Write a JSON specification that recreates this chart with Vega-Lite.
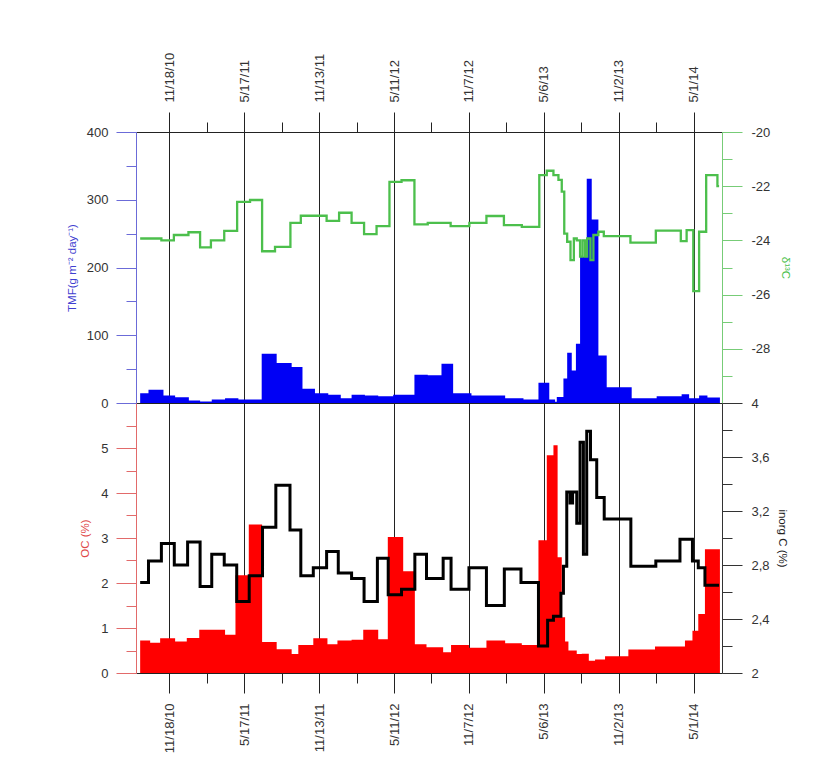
{
  "$schema": "https://vega.github.io/schema/vega-lite/v6.json",
  "background": "white",
  "padding": {"left": 66, "top": 52, "right": 10, "bottom": 5},
  "spacing": 0,
  "bounds": "flush",
  "config": {
    "view": {"stroke": null},
    "font": "Liberation Sans",
    "axis": {"labelFont": "Liberation Sans", "titleFont": "Liberation Sans", "labelColor": "#333333", "labelFontSize": 13, "titleFontWeight": "normal", "titleFontSize": 11.5, "domainWidth": 1, "tickWidth": 1, "grid": false, "labelOverlap": false, "labelFlush": false, "labelBound": false}
  },
  "datasets": {
    "tmf": [
      {"date": "2010-09-09", "v": 14.5}, {"date": "2010-09-29", "v": 19.5}, {"date": "2010-11-04", "v": 11}, {"date": "2010-12-02", "v": 8.6},
      {"date": "2011-01-04", "v": 3.7}, {"date": "2011-01-31", "v": 2.2}, {"date": "2011-02-28", "v": 5.2}, {"date": "2011-04-01", "v": 7.1},
      {"date": "2011-05-03", "v": 5.2}, {"date": "2011-06-28", "v": 72.8}, {"date": "2011-08-03", "v": 59}, {"date": "2011-09-08", "v": 53},
      {"date": "2011-10-04", "v": 21}, {"date": "2011-11-03", "v": 14.5}, {"date": "2011-12-05", "v": 12}, {"date": "2012-01-04", "v": 7},
      {"date": "2012-01-30", "v": 12}, {"date": "2012-03-02", "v": 11}, {"date": "2012-04-03", "v": 10}, {"date": "2012-05-09", "v": 12},
      {"date": "2012-06-29", "v": 41.7}, {"date": "2012-07-31", "v": 41}, {"date": "2012-09-02", "v": 58}, {"date": "2012-09-30", "v": 14.5},
      {"date": "2012-11-13", "v": 11}, {"date": "2013-02-02", "v": 7}, {"date": "2013-03-18", "v": 5}, {"date": "2013-04-23", "v": 30},
      {"date": "2013-05-19", "v": 5}, {"date": "2013-06-02", "v": 2}, {"date": "2013-06-06", "v": 9}, {"date": "2013-06-22", "v": 36},
      {"date": "2013-07-01", "v": 74}, {"date": "2013-07-12", "v": 48}, {"date": "2013-07-22", "v": 87.6}, {"date": "2013-08-01", "v": 216},
      {"date": "2013-08-17", "v": 331}, {"date": "2013-08-29", "v": 271}, {"date": "2013-09-14", "v": 70}, {"date": "2013-10-04", "v": 23.4},
      {"date": "2013-12-03", "v": 7}, {"date": "2014-02-01", "v": 10}, {"date": "2014-04-02", "v": 13}, {"date": "2014-04-20", "v": 7},
      {"date": "2014-05-14", "v": 11}, {"date": "2014-06-03", "v": 8}, {"date": "2014-07-03", "v": 8}
    ],
    "d13c": [
      {"date": "2010-09-09", "v": -23.93}, {"date": "2010-10-30", "v": -24.0}, {"date": "2010-11-29", "v": -23.8}, {"date": "2011-01-03", "v": -23.7},
      {"date": "2011-01-31", "v": -24.26}, {"date": "2011-02-26", "v": -24.0}, {"date": "2011-03-30", "v": -23.65}, {"date": "2011-04-30", "v": -22.58},
      {"date": "2011-05-31", "v": -22.51}, {"date": "2011-06-29", "v": -24.4}, {"date": "2011-07-30", "v": -24.24}, {"date": "2011-09-05", "v": -23.35},
      {"date": "2011-09-30", "v": -23.09}, {"date": "2011-12-01", "v": -23.28}, {"date": "2011-12-31", "v": -22.98}, {"date": "2012-01-30", "v": -23.35},
      {"date": "2012-02-29", "v": -23.77}, {"date": "2012-03-30", "v": -23.47}, {"date": "2012-04-30", "v": -21.84}, {"date": "2012-05-29", "v": -21.78},
      {"date": "2012-06-29", "v": -23.41}, {"date": "2012-07-31", "v": -23.35}, {"date": "2012-09-24", "v": -23.47}, {"date": "2012-11-08", "v": -23.35},
      {"date": "2012-12-19", "v": -23.1}, {"date": "2013-01-30", "v": -23.44}, {"date": "2013-03-14", "v": -23.5}, {"date": "2013-04-25", "v": -21.59},
      {"date": "2013-05-13", "v": -21.43}, {"date": "2013-05-29", "v": -21.59}, {"date": "2013-06-10", "v": -21.77}, {"date": "2013-06-18", "v": -22.2},
      {"date": "2013-06-24", "v": -23.75}, {"date": "2013-07-01", "v": -24.05}, {"date": "2013-07-09", "v": -24.73}, {"date": "2013-07-17", "v": -23.93},
      {"date": "2013-07-24", "v": -24.0}, {"date": "2013-08-01", "v": -24.6}, {"date": "2013-08-07", "v": -24.0}, {"date": "2013-08-13", "v": -24.6},
      {"date": "2013-08-18", "v": -23.93}, {"date": "2013-08-26", "v": -24.73}, {"date": "2013-09-02", "v": -23.8}, {"date": "2013-09-14", "v": -23.68},
      {"date": "2013-09-27", "v": -23.84}, {"date": "2013-11-30", "v": -24.08}, {"date": "2014-01-30", "v": -23.64}, {"date": "2014-03-31", "v": -24.03},
      {"date": "2014-04-14", "v": -23.62}, {"date": "2014-04-30", "v": -25.87}, {"date": "2014-05-14", "v": -23.68}, {"date": "2014-05-31", "v": -21.59},
      {"date": "2014-06-27", "v": -22.0}, {"date": "2014-07-01", "v": -22.0}
    ],
    "oc": [
      {"date": "2010-09-09", "v": 0.72}, {"date": "2010-10-03", "v": 0.67}, {"date": "2010-10-27", "v": 0.77}, {"date": "2010-12-02", "v": 0.70},
      {"date": "2010-12-30", "v": 0.78}, {"date": "2011-01-29", "v": 0.96}, {"date": "2011-04-01", "v": 0.85}, {"date": "2011-04-26", "v": 2.17},
      {"date": "2011-05-28", "v": 3.30}, {"date": "2011-06-29", "v": 0.69}, {"date": "2011-08-03", "v": 0.53}, {"date": "2011-09-08", "v": 0.42},
      {"date": "2011-09-24", "v": 0.62}, {"date": "2011-10-30", "v": 0.77}, {"date": "2011-12-03", "v": 0.64}, {"date": "2011-12-27", "v": 0.72},
      {"date": "2012-01-30", "v": 0.74}, {"date": "2012-02-27", "v": 0.96}, {"date": "2012-04-03", "v": 0.75}, {"date": "2012-04-26", "v": 3.02},
      {"date": "2012-06-02", "v": 2.26}, {"date": "2012-06-30", "v": 0.64}, {"date": "2012-07-28", "v": 0.57}, {"date": "2012-09-06", "v": 0.46},
      {"date": "2012-09-25", "v": 0.62}, {"date": "2012-11-07", "v": 0.56}, {"date": "2012-12-19", "v": 0.72}, {"date": "2013-02-02", "v": 0.66},
      {"date": "2013-03-14", "v": 0.62}, {"date": "2013-04-23", "v": 2.95}, {"date": "2013-05-13", "v": 4.84}, {"date": "2013-05-29", "v": 5.06},
      {"date": "2013-06-08", "v": 2.57}, {"date": "2013-06-18", "v": 1.24}, {"date": "2013-06-26", "v": 0.70}, {"date": "2013-07-04", "v": 0.50},
      {"date": "2013-07-24", "v": 0.42}, {"date": "2013-08-05", "v": 0.43}, {"date": "2013-08-22", "v": 0.27}, {"date": "2013-09-06", "v": 0.30},
      {"date": "2013-09-30", "v": 0.37}, {"date": "2013-11-25", "v": 0.52}, {"date": "2014-01-28", "v": 0.59}, {"date": "2014-04-10", "v": 0.72},
      {"date": "2014-04-28", "v": 0.94}, {"date": "2014-05-12", "v": 1.31}, {"date": "2014-05-28", "v": 2.75}, {"date": "2014-07-03", "v": 2.75}
    ],
    "inorg": [
      {"date": "2010-09-09", "v": 2.67}, {"date": "2010-09-29", "v": 2.83}, {"date": "2010-10-30", "v": 2.96}, {"date": "2010-11-30", "v": 2.80},
      {"date": "2011-01-01", "v": 2.97}, {"date": "2011-01-31", "v": 2.64}, {"date": "2011-02-28", "v": 2.88}, {"date": "2011-03-30", "v": 2.80},
      {"date": "2011-04-29", "v": 2.53}, {"date": "2011-05-29", "v": 2.72}, {"date": "2011-06-30", "v": 3.08}, {"date": "2011-08-01", "v": 3.39},
      {"date": "2011-09-04", "v": 3.06}, {"date": "2011-09-30", "v": 2.72}, {"date": "2011-10-30", "v": 2.78}, {"date": "2011-12-01", "v": 2.90},
      {"date": "2011-12-29", "v": 2.74}, {"date": "2012-01-30", "v": 2.70}, {"date": "2012-02-29", "v": 2.53}, {"date": "2012-04-01", "v": 2.85},
      {"date": "2012-04-27", "v": 2.58}, {"date": "2012-05-29", "v": 2.62}, {"date": "2012-06-30", "v": 2.88}, {"date": "2012-07-28", "v": 2.70},
      {"date": "2012-09-06", "v": 2.85}, {"date": "2012-09-25", "v": 2.62}, {"date": "2012-11-07", "v": 2.78}, {"date": "2012-12-19", "v": 2.50},
      {"date": "2013-01-31", "v": 2.77}, {"date": "2013-03-12", "v": 2.67}, {"date": "2013-04-23", "v": 2.20}, {"date": "2013-05-15", "v": 2.39},
      {"date": "2013-05-29", "v": 2.42}, {"date": "2013-06-16", "v": 2.59}, {"date": "2013-06-22", "v": 2.79}, {"date": "2013-06-30", "v": 3.34},
      {"date": "2013-07-08", "v": 3.26}, {"date": "2013-07-14", "v": 3.34}, {"date": "2013-07-24", "v": 3.11}, {"date": "2013-08-01", "v": 3.71},
      {"date": "2013-08-09", "v": 2.88}, {"date": "2013-08-17", "v": 3.79}, {"date": "2013-08-26", "v": 3.58}, {"date": "2013-09-10", "v": 3.30},
      {"date": "2013-09-28", "v": 3.14}, {"date": "2013-12-01", "v": 2.79}, {"date": "2014-01-30", "v": 2.83}, {"date": "2014-03-29", "v": 2.99},
      {"date": "2014-04-28", "v": 2.83}, {"date": "2014-05-12", "v": 2.78}, {"date": "2014-05-28", "v": 2.65}, {"date": "2014-07-01", "v": 2.65}
    ]
  },
  "vconcat": [
    {
      "width": 586,
      "height": 271,
      "layer": [
        {
          "data": {"name": "tmf"},
          "mark": {"type": "area", "interpolate": "step-after", "color": "#0000f5", "opacity": 1},
          "encoding": {
            "x": {
              "field": "date", "type": "temporal",
              "scale": {"domain": [{"year": 2010, "month": 8, "date": 30}, {"year": 2014, "month": 7, "date": 8}]},
              "axis": {
                "orient": "top", "title": null,
                "values": [
                  {"year": 2010, "month": 11, "date": 18}, {"year": 2011, "month": 2, "date": 16}, {"year": 2011, "month": 5, "date": 17}, {"year": 2011, "month": 8, "date": 15},
                  {"year": 2011, "month": 11, "date": 13}, {"year": 2012, "month": 2, "date": 11}, {"year": 2012, "month": 5, "date": 11}, {"year": 2012, "month": 8, "date": 9},
                  {"year": 2012, "month": 11, "date": 7}, {"year": 2013, "month": 2, "date": 5}, {"year": 2013, "month": 5, "date": 6}, {"year": 2013, "month": 8, "date": 4},
                  {"year": 2013, "month": 11, "date": 2}, {"year": 2014, "month": 1, "date": 31}, {"year": 2014, "month": 5, "date": 1}
                ],
                "labelExpr": "round((datum.value - datetime(2010,10,18)) / 86400000) % 180 == 0 ? timeFormat(datum.value, '%-m/%-d/%y') : ''",
                "labelAngle": -90, "labelAlign": "left", "labelBaseline": "middle", "labelPadding": 10,
                "tickSize": {"condition": {"test": "round((datum.value - datetime(2010,10,18)) / 86400000) % 180 == 0", "value": 20}, "value": 10},
                "tickColor": "#222222", "domainColor": "#222222",
                "grid": true, "gridColor": "#222222", "gridWidth": 1,
                "gridOpacity": {"condition": {"test": "round((datum.value - datetime(2010,10,18)) / 86400000) % 180 == 0", "value": 1}, "value": 0}
              }
            },
            "y": {
              "field": "v", "type": "quantitative",
              "scale": {"domain": [0, 400], "nice": false},
              "axis": {
                "orient": "left",
                "values": [0, 50, 100, 150, 200, 250, 300, 350, 400],
                "labelExpr": "datum.value % 100 == 0 ? format(datum.value, 'd') : ''",
                "tickSize": {"condition": {"test": "datum.value % 100 == 0", "value": 20}, "value": 10},
                "labelPadding": 8,
                "domainColor": "#6b6bd8", "tickColor": "#6b6bd8",
                "title": "TMF(g m\u207b\u00b2 day\u207b\u00b9)", "titleColor": "#3f3fd0", "titlePadding": 9
              }
            }
          }
        },
        {
          "data": {"name": "d13c"},
          "mark": {"type": "line", "interpolate": "step-after", "color": "#4cbf4c", "strokeWidth": 2.3},
          "encoding": {
            "x": {
              "field": "date", "type": "temporal",
              "axis": {"orient": "bottom", "title": null, "ticks": false, "labels": false, "grid": false, "domainColor": "#222222"}
            },
            "y": {
              "field": "v", "type": "quantitative",
              "scale": {"domain": [-30, -20], "nice": false, "zero": false},
              "axis": {
                "orient": "right",
                "values": [-29, -28, -27, -26, -25, -24, -23, -22, -21, -20],
                "labelExpr": "datum.value % 2 == 0 ? '-' + format(abs(datum.value), 'd') : ''",
                "tickSize": {"condition": {"test": "datum.value % 2 == 0", "value": 20}, "value": 10},
                "labelPadding": 9,
                "domainColor": "#77cc77", "tickColor": "#77cc77",
                "title": "\u03b4\u00b9\u00b3C", "titleColor": "#4cbf4c", "titlePadding": 10
              }
            }
          }
        }
      ],
      "resolve": {"scale": {"y": "independent"}, "axis": {"x": "independent", "y": "independent"}}
    },
    {
      "width": 586,
      "height": 270,
      "layer": [
        {
          "data": {"name": "oc"},
          "mark": {"type": "area", "interpolate": "step-after", "color": "#ff0000", "opacity": 1},
          "encoding": {
            "x": {
              "field": "date", "type": "temporal",
              "scale": {"domain": [{"year": 2010, "month": 8, "date": 30}, {"year": 2014, "month": 7, "date": 8}]},
              "axis": {
                "orient": "bottom", "title": null,
                "values": [
                  {"year": 2010, "month": 11, "date": 18}, {"year": 2011, "month": 2, "date": 16}, {"year": 2011, "month": 5, "date": 17}, {"year": 2011, "month": 8, "date": 15},
                  {"year": 2011, "month": 11, "date": 13}, {"year": 2012, "month": 2, "date": 11}, {"year": 2012, "month": 5, "date": 11}, {"year": 2012, "month": 8, "date": 9},
                  {"year": 2012, "month": 11, "date": 7}, {"year": 2013, "month": 2, "date": 5}, {"year": 2013, "month": 5, "date": 6}, {"year": 2013, "month": 8, "date": 4},
                  {"year": 2013, "month": 11, "date": 2}, {"year": 2014, "month": 1, "date": 31}, {"year": 2014, "month": 5, "date": 1}
                ],
                "labelExpr": "round((datum.value - datetime(2010,10,18)) / 86400000) % 180 == 0 ? timeFormat(datum.value, '%-m/%-d/%y') : ''",
                "labelAngle": -90, "labelAlign": "right", "labelBaseline": "middle", "labelPadding": 10,
                "tickSize": {"condition": {"test": "round((datum.value - datetime(2010,10,18)) / 86400000) % 180 == 0", "value": 20}, "value": 10},
                "tickColor": "#222222", "domainColor": "#222222",
                "grid": true, "gridColor": "#222222", "gridWidth": 1,
                "gridOpacity": {"condition": {"test": "round((datum.value - datetime(2010,10,18)) / 86400000) % 180 == 0", "value": 1}, "value": 0}
              }
            },
            "y": {
              "field": "v", "type": "quantitative",
              "scale": {"domain": [0, 6], "nice": false},
              "axis": {
                "orient": "left",
                "values": [0, 0.5, 1, 1.5, 2, 2.5, 3, 3.5, 4, 4.5, 5, 5.5],
                "labelExpr": "datum.value % 1 == 0 ? format(datum.value, 'd') : ''",
                "tickSize": {"condition": {"test": "datum.value % 1 == 0", "value": 20}, "value": 10},
                "labelPadding": 8,
                "domainColor": "#e26a6a", "tickColor": "#e26a6a",
                "title": "OC (%)", "titleColor": "#e04848", "titlePadding": 10
              }
            }
          }
        },
        {
          "data": {"name": "inorg"},
          "mark": {"type": "line", "interpolate": "step-after", "color": "#000000", "strokeWidth": 3},
          "encoding": {
            "x": {"field": "date", "type": "temporal"},
            "y": {
              "field": "v", "type": "quantitative",
              "scale": {"domain": [2, 4], "nice": false, "zero": false},
              "axis": {
                "orient": "right",
                "values": [2, 2.2, 2.4, 2.6, 2.8, 3.0, 3.2, 3.4, 3.6, 3.8, 4],
                "labelExpr": "round(datum.value * 10) % 4 == 0 ? (datum.value % 1 == 0 ? format(datum.value, 'd') : replace(format(datum.value, '.1f'), '.', ',')) : ''",
                "tickSize": {"condition": {"test": "round(datum.value * 10) % 4 == 0", "value": 20}, "value": 10},
                "labelPadding": 9,
                "domainColor": "#333333", "tickColor": "#333333",
                "title": "inorg C (%)", "titleColor": "#222222", "titlePadding": 7
              }
            }
          }
        }
      ],
      "resolve": {"scale": {"y": "independent"}}
    }
  ]
}
